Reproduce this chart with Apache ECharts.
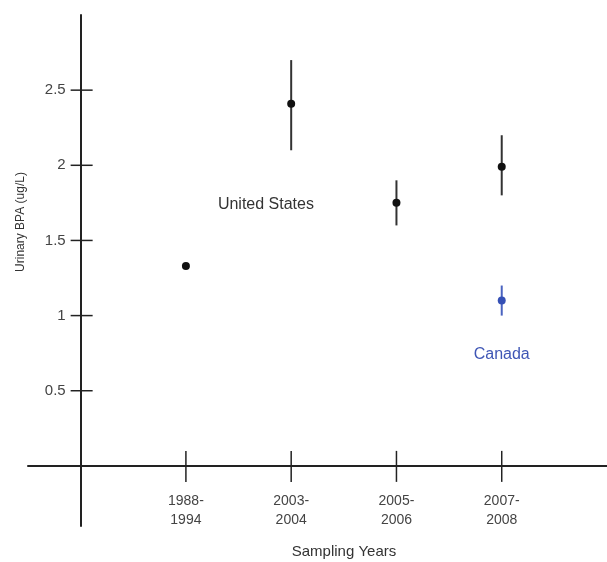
<!DOCTYPE html>
<html><head><meta charset="utf-8">
<script src="https://cdn.jsdelivr.net/npm/echarts@6/dist/echarts.min.js"></script>
<style>html,body{margin:0;padding:0;background:#fff}#c{width:607px;height:562px}</style>
</head><body><div id="c"></div>
<script>
const categories = ['1988-\n1994', '2003-\n2004', '2005-\n2006', '2007-\n2008'];
const usMean = [1.33, 2.41, 1.75, 1.99];
const usLow = [null, 2.10, 1.60, 1.80];
const usHigh = [null, 2.70, 1.90, 2.20];
const canadaCategory = 3;
const canadaMean = [1.10];
const canadaLow = [1.00];
const canadaHigh = [1.20];
const yTickValues = [0.5, 1, 1.5, 2, 2.5];

const chart = echarts.init(document.getElementById('c'));
const catPos = categories.map((c, i) => i + 1);
const usPts = usMean.map((v, i) => [catPos[i], v]);
const usErr = usMean.map((v, i) => [catPos[i], usLow[i], usHigh[i]]).filter(d => d[1] != null);
const caPts = canadaMean.map(v => [catPos[canadaCategory], v]);
const caErr = canadaMean.map((v, i) => [catPos[canadaCategory], canadaLow[i], canadaHigh[i]]);

const W = 607, H = 562, GL = 28, GR = 0, GT = 15, GB = 36;
const XMIN = -0.5, XMAX = 5, YMIN = -0.4, YMAX = 3.0;
const xZeroOffset = -((0 - XMIN) / (XMAX - XMIN)) * (W - GL - GR);
const yZeroOffset = -((0 - YMIN) / (YMAX - YMIN)) * (H - GT - GB);

function errItem(color) {
  return function (params, api) {
    const p1 = api.coord([api.value(0), api.value(1)]);
    const p2 = api.coord([api.value(0), api.value(2)]);
    return { type: 'line', shape: { x1: p1[0], y1: p1[1], x2: p2[0], y2: p2[1] },
      style: { stroke: color, lineWidth: 2 } };
  };
}
const xTickData = catPos.map(p => [p]);
const yTickData = yTickValues.map(v => [v]);
const FONT = 'Liberation Sans, Arial, sans-serif';

chart.setOption({
  animation: false,
  backgroundColor: '#fff',
  grid: { left: GL, right: GR, top: GT, bottom: GB, containLabel: false, outerBoundsMode: 'none' },
  xAxis: {
    type: 'value', min: XMIN, max: XMAX, offset: yZeroOffset,
    axisLine: { onZero: false, lineStyle: { color: '#222', width: 2 } },
    axisTick: { show: false },
    splitLine: { show: false },
    axisLabel: {
      customValues: catPos, margin: 26,
      formatter: v => categories[Math.round(v) - 1] || '',
      color: '#444', fontSize: 14, lineHeight: 19, fontFamily: FONT
    }
  },
  yAxis: {
    type: 'value', min: YMIN, max: YMAX, offset: xZeroOffset,
    axisLine: { onZero: false, lineStyle: { color: '#222', width: 2 } },
    axisTick: { show: false },
    splitLine: { show: false },
    axisLabel: {
      customValues: yTickValues, margin: 15,
      color: '#444', fontSize: 15, fontFamily: FONT
    }
  },
  graphic: [
    { type: 'text', x: 344, y: 552, style: { text: 'Sampling Years', fill: '#333', fontSize: 15, align: 'center', verticalAlign: 'middle', fontFamily: FONT } },
    { type: 'text', x: 21, y: 222, rotation: Math.PI / 2, style: { text: 'Urinary BPA (ug/L)', fill: '#333', fontSize: 12, align: 'center', verticalAlign: 'middle', fontFamily: FONT } }
  ],
  series: [
    { type: 'custom', data: xTickData, silent: true, z: 1,
      renderItem: (params, api) => {
        const p = api.coord([api.value(0), 0]);
        return { type: 'line', shape: { x1: p[0], y1: p[1] - 15, x2: p[0], y2: p[1] + 16 }, style: { stroke: '#222', lineWidth: 1.5 } };
      } },
    { type: 'custom', data: yTickData, silent: true, z: 1,
      renderItem: (params, api) => {
        const p = api.coord([0, api.value(0)]);
        return { type: 'line', shape: { x1: p[0] - 10, y1: p[1], x2: p[0] + 12, y2: p[1] }, style: { stroke: '#222', lineWidth: 1.5 } };
      } },
    { type: 'custom', data: usErr, silent: true, z: 2, renderItem: errItem('#333'), encode: { x: 0, y: [1, 2] } },
    { type: 'custom', data: caErr, silent: true, z: 2, renderItem: errItem('#4a63c0'), encode: { x: 0, y: [1, 2] } },
    { type: 'scatter', data: usPts, symbolSize: 8, itemStyle: { color: '#111', opacity: 1 }, z: 3,
      markPoint: { symbol: 'circle', symbolSize: 0, data: [{ coord: [1.76, 1.74], label: { show: true, formatter: 'United States', color: '#333', fontSize: 16, fontFamily: FONT } }] } },
    { type: 'scatter', data: caPts, symbolSize: 8, itemStyle: { color: '#3550b5', opacity: 1 }, z: 3,
      markPoint: { symbol: 'circle', symbolSize: 0, data: [{ coord: [4, 0.74], label: { show: true, formatter: 'Canada', color: '#3f56b5', fontSize: 16, fontFamily: FONT } }] } }
  ]
});
</script></body></html>
